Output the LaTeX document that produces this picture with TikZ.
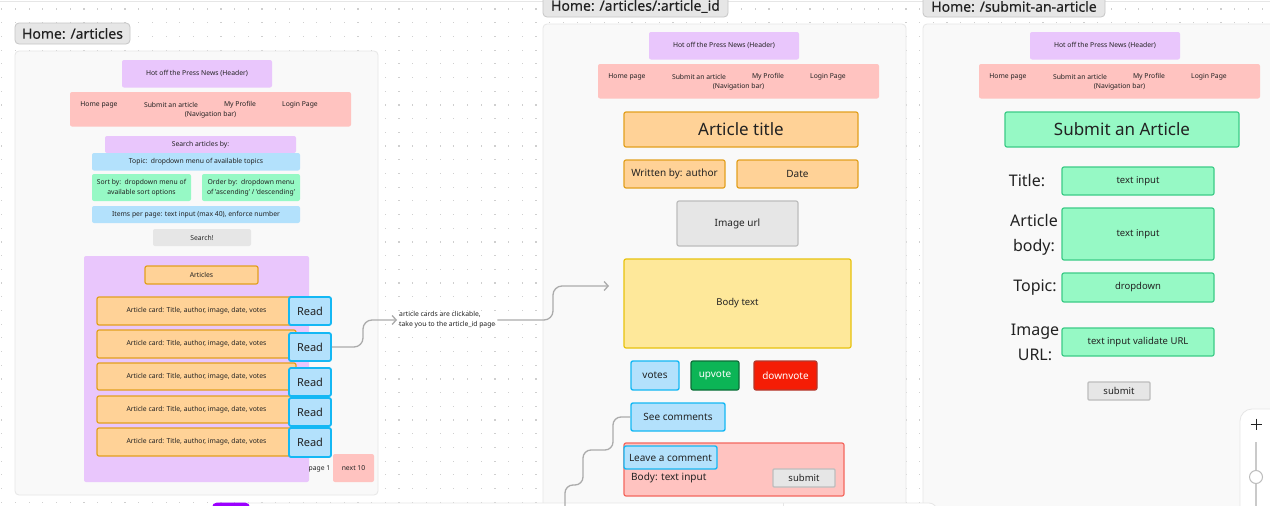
\documentclass[tikz,border=0pt]{standalone}
\usepackage{fontspec}
\setmainfont{Noto Sans}
\newfontfamily\tagface{Noto Sans}[FakeBold=0.25]
\usetikzlibrary{arrows.meta}

\definecolor{ink}{HTML}{222222}
\definecolor{canvas}{HTML}{FFFFFF}
\definecolor{dotc}{HTML}{CFCFCF}
\definecolor{framefill}{HTML}{F9F9F9}
\definecolor{frameline}{HTML}{E6E6E6}
\definecolor{tagfill}{HTML}{E6E6E6}
\definecolor{tagline}{HTML}{C6C6C6}
\definecolor{lilac}{HTML}{E9C6FC}
\definecolor{rose}{HTML}{FFC3C0}
\definecolor{roseline}{HTML}{F4675E}
\definecolor{sky}{HTML}{B3E1FC}
\definecolor{skyline}{HTML}{14B8F4}
\definecolor{mint}{HTML}{96F9C5}
\definecolor{mintline}{HTML}{3CCB87}
\definecolor{peach}{HTML}{FFD297}
\definecolor{peachline}{HTML}{E2A01F}
\definecolor{butter}{HTML}{FEE89A}
\definecolor{butterline}{HTML}{E8C30D}
\definecolor{greybtn}{HTML}{E6E6E6}
\definecolor{greyline}{HTML}{BDBDBD}
\definecolor{upfill}{HTML}{0CB556}
\definecolor{upline}{HTML}{0D6E38}
\definecolor{downfill}{HTML}{F51D05}
\definecolor{downline}{HTML}{B23A2E}
\definecolor{wire}{HTML}{ABABAB}
\definecolor{violet}{HTML}{9B00FF}

\tikzset{
  base/.style={rectangle, inner sep=0pt, rounded corners=2pt, text=ink, align=center},
  wh/.style 2 args={minimum width=#1pt, minimum height=#2pt},
  txt/.style={inner sep=1pt, text=ink, align=center},
  tiny/.style={font=\fontsize{6.8}{10}\selectfont},
  mid/.style={font=\fontsize{10}{12}\selectfont},
  big/.style={font=\fontsize{17}{20}\selectfont},
  label/.style={font=\fontsize{16}{25}\selectfont},
  tagfont/.style={font=\tagface\fontsize{14}{16}\selectfont},
  frame/.style={base, rounded corners=4pt, fill=framefill, draw=frameline, line width=0.8pt},
  tagbox/.style={base, rounded corners=4pt, fill=tagfill, draw=tagline, line width=0.8pt, tagfont},
  lilacbox/.style={base, fill=lilac},
  rosebox/.style={base, fill=rose},
  skybox/.style={base, fill=sky},
  mintbox/.style={base, fill=mint},
  greybox/.style={base, fill=greybtn},
  peachbox/.style={base, fill=peach, draw=peachline, line width=1.2pt},
  readbtn/.style={base, fill=sky, draw=skyline, line width=1.8pt, font=\fontsize{11}{12}\selectfont},
  skybtn/.style={base, fill=sky, draw=skyline, line width=1.4pt, mid},
  inputbox/.style={base, fill=mint, draw=mintline, line width=1.2pt, font=\fontsize{9.5}{12}\selectfont},
  submitbtn/.style={base, rounded corners=1pt, fill=greybtn, draw=greyline, line width=1.2pt, font=\fontsize{9.5}{12}\selectfont},
  conn/.style={draw=wire, line width=1.3pt, rounded corners=9pt},
  tip/.style={-{Straight Barb[length=4pt,width=9pt]}},
}

% page header strip
\newcommand\hdrbox[3]{%
  \node[lilacbox, wh={150}{27.5}, tiny] (#1) at (#2+75,#3+13.75) {Hot off the Press News (Header)};}

% navigation bar with its four links
\newcommand\navstrip[3]{%
  \node[rosebox, wh={281}{34.5}] (#1) at (#2+140.5,#3+17.25) {};
  \node[txt, tiny] (#1-home) at (#2+29,#3+12.5) {Home page};
  \node[txt, tiny] (#1-submit) at (#2+101,#3+12.5) {Submit an article};
  \node[txt, tiny] (#1-profile) at (#2+170,#3+12.5) {My Profile};
  \node[txt, tiny] (#1-login) at (#2+230,#3+12.5) {Login Page};
  \node[txt, tiny] (#1-label) at (#2+140.5,#3+22.5) {(Navigation bar)};}

\begin{document}
\begin{tikzpicture}[x=1pt, y=-1pt]
\useasboundingbox (0,0) rectangle (1270,506);
\clip (0,0) rectangle (1270,506);

% canvas and dot grid
\fill[canvas] (0,0) rectangle (1270,506);
\foreach \i in {0,...,92}{
  \foreach \j in {0,...,36}{
    \fill[dotc] (1.7+13.7*\i-0.6, 9+13.7*\j-0.6) rectangle ++(1.2,1.2);
  }
}
\draw[frameline, line width=1pt] (0,1) -- (1270,1);

% ---------------- Home: /articles ----------------
\node[frame, wh={363}{444}] (frameL) at (196.5,273) {};
\node[tagbox, wh={115}{21}] (tagL) at (72.5,33.5) {Home: /articles};
\hdrbox{hdrL}{122}{60}
\navstrip{navL}{70}{92}

\node[lilacbox, wh={191}{17}, tiny] (searchby) at (200.5,144.5) {Search articles by:};
\node[skybox, wh={208}{17.5}, tiny] (topic) at (196,161.75) {Topic:\ \ dropdown menu of available topics};
\node[mintbox, wh={99}{27}, tiny] (sortby) at (141.5,187.5) {Sort by:\ \ dropdown menu of\\available sort options};
\node[mintbox, wh={98}{27}, tiny] (orderby) at (251,187.5) {Order by:\ \ dropdown menu\\of 'ascending' / 'descending'};
\node[skybox, wh={208}{17}, tiny] (items) at (196,214.5) {Items per page: text input (max 40), enforce number};
\node[greybox, wh={98}{17}, tiny] (searchbtn) at (202,237.5) {Search!};

\node[lilacbox, wh={225}{226}] (artcont) at (196.5,369) {};
\node[peachbox, wh={113}{18}, tiny] (artlabel) at (201.5,275) {Articles};

\node[peachbox, wh={199}{28}, tiny] (card1) at (196.5,311) {Article card: Title, author, image, date, votes};
\node[peachbox, wh={199}{28}, tiny] (card2) at (196.5,344) {Article card: Title, author, image, date, votes};
\node[peachbox, wh={199}{27}, tiny] (card3) at (196.5,376.5) {Article card: Title, author, image, date, votes};
\node[peachbox, wh={199}{27}, tiny] (card4) at (196.5,409.5) {Article card: Title, author, image, date, votes};
\node[peachbox, wh={199}{28}, tiny] (card5) at (196.5,442) {Article card: Title, author, image, date, votes};

\node[readbtn, wh={42}{28}] (read1) at (310,311) {Read};
\node[readbtn, wh={42}{28}] (read2) at (310,347) {Read};
\node[readbtn, wh={42}{28}] (read3) at (310,382) {Read};
\node[readbtn, wh={42}{28}] (read4) at (310,412) {Read};
\node[readbtn, wh={42}{29}] (read5) at (310,442.5) {Read};

\node[txt, tiny, anchor=east] (page1) at (331.5,469) {page 1};
\node[rosebox, wh={41}{28}, tiny] (next10) at (353.5,468) {next 10};

% note between the pages
\node[txt, tiny, align=left, anchor=west, inner sep=2pt] (note) at (397,320)
  {article cards are clickable,\\take you to the article\_id page};
\coordinate (bodyin) at (609,286);

% ---------------- Home: /articles/:article_id ----------------
\node[frame, wh={363}{536}] (frameM) at (724.5,292) {};
\node[tagbox, wh={185}{21}] (tagM) at (635.5,6.5) {Home: /articles/:article\_id};
\hdrbox{hdrM}{649}{32}
\navstrip{navM}{598}{64}

\node[peachbox, wh={234}{35}, big] (atitle) at (741,129.5) {Article title};
\node[peachbox, wh={101}{28}, mid] (author) at (674.5,174) {Written by: author};
\node[peachbox, wh={121}{28}, mid] (date) at (797.5,174) {Date};
\node[greybox, draw=greyline, line width=1.2pt, wh={121}{45}, mid] (imgurl) at (737.5,223.5) {Image url};
\node[base, fill=butter, draw=butterline, line width=1.2pt, wh={227}{89}, font=\fontsize{9.5}{12}\selectfont] (body) at (737.5,303.5) {Body text};

\node[skybtn, wh={48}{29}] (votes) at (655,375.5) {votes};
\node[base, fill=upfill, draw=upline, line width=1.2pt, text=white, mid, wh={48}{29}] (upvote) at (715,375.5) {upvote};
\node[base, fill=downfill, draw=downline, line width=1.2pt, text=white, mid, wh={63}{29}] (downvote) at (785.5,375.5) {downvote};
\node[skybtn, wh={94}{28}] (seecom) at (678,417) {See comments};

\node[base, fill=rose, draw=roseline, line width=1.2pt, wh={220}{53}] (combox) at (734,469.5) {};
\node[skybtn, wh={93}{23}] (leave) at (670.5,457.5) {Leave a comment};
\node[txt, mid, anchor=west] (combody) at (630,478) {Body: text input};
\node[submitbtn, wh={62}{18}] (submitM) at (804,478) {submit};

% ---------------- Home: /submit-an-article ----------------
\node[frame, wh={367}{536}] (frameR) at (1106.5,292) {};
\node[tagbox, wh={182}{21}] (tagR) at (1014,6.5) {Home: /submit-an-article};
\hdrbox{hdrR}{1030}{32}
\navstrip{navR}{979}{64}

\node[base, fill=mint, draw=mintline, line width=1.2pt, wh={234}{35}, big] (subtitle) at (1122,129.5) {Submit an Article};

\node[txt, label] (lbltitle) at (1027,181) {Title:};
\node[inputbox, wh={152}{28}] (in1) at (1138,181) {text input};
\node[txt, label] (lblbody) at (1034,234.5) {Article\\body:};
\node[inputbox, wh={152}{52}] (in2) at (1138,234) {text input};
\node[txt, label] (lbltopic) at (1035,287.5) {Topic:};
\node[inputbox, wh={152}{29}] (in3) at (1138,287.5) {dropdown};
\node[txt, label] (lblimg) at (1035,342.5) {Image\\URL:};
\node[inputbox, wh={152}{28}] (in4) at (1138,342) {text input validate URL};
\node[submitbtn, wh={62}{18}] (submitR) at (1119,391) {submit};

% ---------------- connectors ----------------
\draw[conn, tip] (read2.east) -- (363,347) -- (363,320) -- (note.west);
\draw[conn, tip] (note.east) -- (553,320) -- (553,286) -- (bodyin);

% ---------------- canvas controls ----------------
\node[base, rounded corners=8pt, fill=white, draw=frameline, line width=0.8pt, wh={725}{40}] (toolbar) at (574.5,523) {};
\fill[violet, rounded corners=5pt] (212,502.5) rectangle (250,515);
\draw[frameline, line width=0.8pt] (783,503) -- (783,515);

\node[base, rounded corners=12pt, fill=white, draw=frameline, line width=0.8pt, wh={50}{140}] (zoombar) at (1265,479) {};
\draw[ink, line width=1pt] (1250.5,424) -- (1261.5,424) (1256,418.5) -- (1256,429.5);
\draw[greyline!80, line width=1.2pt] (1256,442) -- (1256,510);
\node[circle, fill=white, draw=greyline, line width=1pt, minimum size=13pt, inner sep=0pt] (zoomknob) at (1256,477) {};

\coordinate (comend) at (565,512);
\draw[conn, rounded corners=8pt] (seecom.west) -- (613,417) -- (613,450) -- (583,450) -- (583,485) -- (565,485) -- (comend);

\end{tikzpicture}
\end{document}
